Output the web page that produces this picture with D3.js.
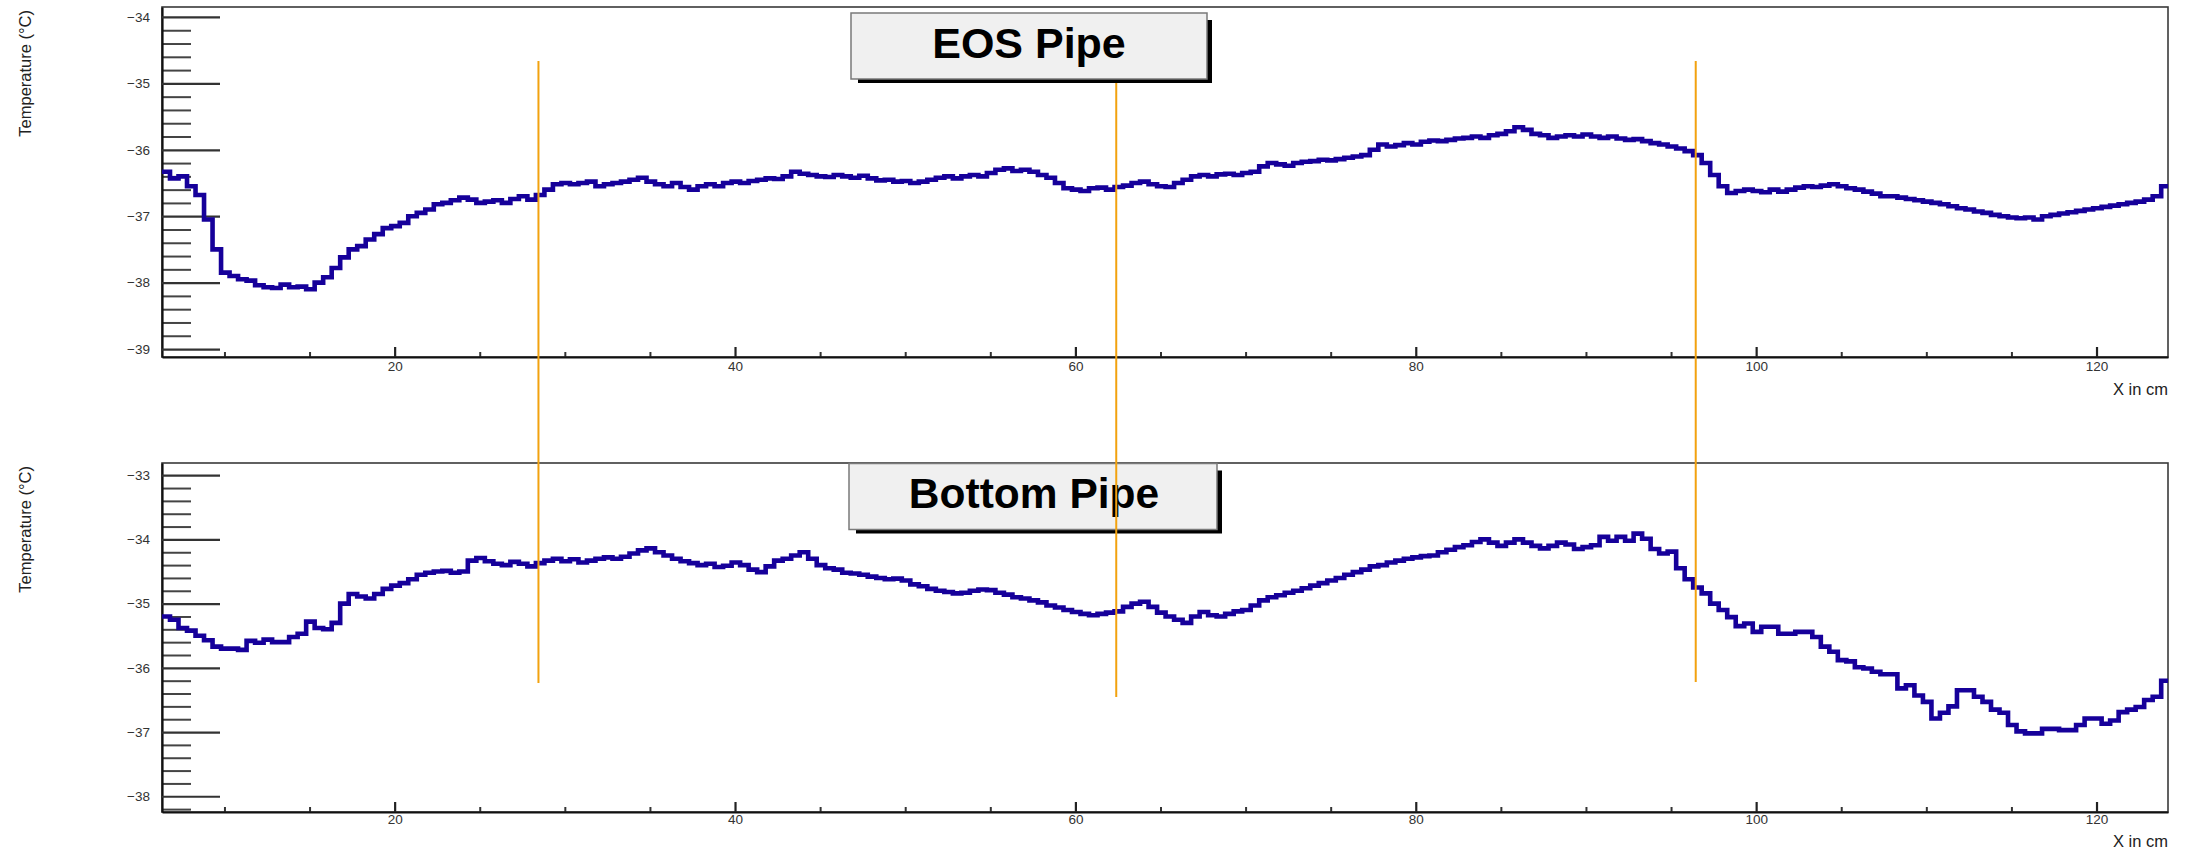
<!DOCTYPE html>
<html>
<head>
<meta charset="utf-8">
<script src="https://cdn.jsdelivr.net/npm/d3@7"></script>
<style>
  html, body { margin: 0; padding: 0; background: #fff; }
  svg { display: block; }
  text { font-family: "Liberation Sans", Arial, Helvetica, sans-serif; }
</style>
</head>
<body>
<svg id="chart" width="2187" height="852"></svg>
<script>
// Temperature profiles along the pipes, histogram bins of 0.5 cm starting at 6.3 cm
const binStart = 6.3;
const binWidth = 0.5;

const eosTemps = [
  -36.33, -36.43, -36.40, -36.55, -36.68, -37.05, -37.50, -37.85, -37.90, -37.95,
  -37.97, -38.04, -38.07, -38.08, -38.03, -38.07, -38.06, -38.10, -38.00, -37.92,
  -37.78, -37.62, -37.50, -37.45, -37.35, -37.27, -37.18, -37.15, -37.10, -37.00,
  -36.95, -36.90, -36.82, -36.80, -36.76, -36.72, -36.75, -36.80, -36.78, -36.76,
  -36.80, -36.74, -36.70, -36.75, -36.68, -36.60, -36.52, -36.50, -36.52, -36.50,
  -36.48, -36.55, -36.52, -36.50, -36.48, -36.45, -36.42, -36.48, -36.52, -36.55,
  -36.50, -36.56, -36.60, -36.55, -36.52, -36.55, -36.50, -36.48, -36.50, -36.47,
  -36.45, -36.43, -36.44, -36.40, -36.33, -36.36, -36.38, -36.40, -36.41, -36.38,
  -36.40, -36.42, -36.39, -36.43, -36.46, -36.45, -36.48, -36.47, -36.50, -36.48,
  -36.45, -36.42, -36.40, -36.43, -36.40, -36.38, -36.40, -36.35, -36.30, -36.28,
  -36.32, -36.30, -36.33, -36.38, -36.42, -36.50, -36.58, -36.60, -36.62, -36.58,
  -36.57, -36.60, -36.56, -36.54, -36.50, -36.48, -36.52, -36.55, -36.56, -36.50,
  -36.45, -36.40, -36.38, -36.40, -36.37, -36.36, -36.38, -36.35, -36.33, -36.25,
  -36.20, -36.22, -36.24, -36.20, -36.18, -36.17, -36.15, -36.16, -36.14, -36.12,
  -36.10, -36.08, -36.00, -35.92, -35.95, -35.93, -35.90, -35.92, -35.88, -35.86,
  -35.87, -35.85, -35.83, -35.82, -35.80, -35.82, -35.78, -35.76, -35.72, -35.66,
  -35.70, -35.76, -35.78, -35.82, -35.80, -35.78, -35.80, -35.77, -35.80, -35.82,
  -35.80, -35.83, -35.85, -35.84, -35.87, -35.90, -35.92, -35.95, -35.98, -36.02,
  -36.08, -36.20, -36.38, -36.55, -36.65, -36.62, -36.60, -36.62, -36.64, -36.60,
  -36.63, -36.60, -36.57, -36.55, -36.56, -36.54, -36.52, -36.55, -36.58, -36.60,
  -36.63, -36.66, -36.70, -36.70, -36.72, -36.74, -36.76, -36.78, -36.80, -36.82,
  -36.85, -36.88, -36.90, -36.93, -36.95, -36.98, -37.00, -37.02, -37.03, -37.02,
  -37.05, -37.00, -36.98, -36.96, -36.94, -36.92, -36.90, -36.88, -36.86, -36.84,
  -36.82, -36.80, -36.78, -36.75, -36.70, -36.55
];

const bottomTemps = [
  -35.20, -35.25, -35.38, -35.42, -35.50, -35.57, -35.67, -35.70, -35.70, -35.72,
  -35.58, -35.61, -35.56, -35.60, -35.60, -35.52, -35.47, -35.28, -35.38, -35.40,
  -35.30, -35.00, -34.85, -34.89, -34.92, -34.85, -34.77, -34.72, -34.68, -34.62,
  -34.55, -34.52, -34.50, -34.49, -34.52, -34.50, -34.33, -34.29, -34.34, -34.38,
  -34.40, -34.35, -34.38, -34.42, -34.37, -34.33, -34.30, -34.34, -34.31, -34.36,
  -34.33, -34.30, -34.28, -34.30, -34.27, -34.22, -34.17, -34.14, -34.20, -34.25,
  -34.30, -34.34, -34.37, -34.40, -34.38, -34.43, -34.41, -34.36, -34.40, -34.47,
  -34.51, -34.42, -34.33, -34.30, -34.25, -34.20, -34.30, -34.40, -34.45, -34.47,
  -34.52, -34.53, -34.55, -34.58, -34.60, -34.62, -34.61, -34.64, -34.70, -34.73,
  -34.77, -34.80, -34.82, -34.84, -34.83, -34.80, -34.78, -34.79, -34.83, -34.86,
  -34.90, -34.92, -34.95, -34.98, -35.03, -35.06, -35.10, -35.13, -35.16, -35.18,
  -35.16, -35.14, -35.12, -35.05, -35.00, -34.97, -35.05, -35.14, -35.20, -35.25,
  -35.30, -35.20, -35.13, -35.18, -35.20, -35.16, -35.12, -35.10, -35.03, -34.95,
  -34.90, -34.87, -34.83, -34.80, -34.76, -34.72, -34.68, -34.64, -34.60, -34.55,
  -34.51, -34.47, -34.42, -34.40, -34.36, -34.33, -34.30, -34.28, -34.26, -34.25,
  -34.20, -34.16, -34.12, -34.09, -34.04, -34.00, -34.05, -34.10, -34.05, -34.00,
  -34.05, -34.10, -34.14, -34.10, -34.05, -34.08, -34.15, -34.12, -34.09, -33.96,
  -34.02, -33.96, -34.02, -33.91, -33.99, -34.15, -34.22, -34.19, -34.45, -34.62,
  -34.75, -34.84, -35.00, -35.10, -35.21, -35.35, -35.31, -35.44, -35.36, -35.36,
  -35.47, -35.47, -35.44, -35.44, -35.52, -35.67, -35.75, -35.88, -35.90, -35.99,
  -36.01, -36.06, -36.10, -36.10, -36.32, -36.27, -36.43, -36.53, -36.79, -36.70,
  -36.60, -36.35, -36.35, -36.45, -36.53, -36.65, -36.70, -36.89, -36.99, -37.02,
  -37.02, -36.95, -36.95, -36.97, -36.97, -36.89, -36.79, -36.79, -36.87, -36.82,
  -36.69, -36.65, -36.61, -36.50, -36.45, -36.20
];

// Axis ranges and ticks
const xRange = [6.33, 124.2];
const xTicks = [20, 40, 60, 80, 100, 120];
const eosRange = [-39.12, -33.85];
const eosTicks = [-39, -38, -37, -36, -35, -34];
const bottomRange = [-38.245, -32.81];
const bottomTicks = [-38, -37, -36, -35, -34, -33];

// Reference positions along the pipe (cm)
const markerPositions = [28.45, 62.4, 96.45];

const panels = [
  { id: "eos", title: "EOS Pipe", values: eosTemps, yRange: eosRange, yTicks: eosTicks },
  { id: "bottom", title: "Bottom Pipe", values: bottomTemps, yRange: bottomRange, yTicks: bottomTicks }
];

// Layout
const frameLeft = 162, frameRight = 2168;
const layouts = {
  eos:    { top: 7,   bottom: 357, labelPad: 4, xTitleY: 395,
            box: { x: 851, y: 13, w: 356, h: 66, textX: 1029, baseline: 58, size: 43 } },
  bottom: { top: 463, bottom: 812, labelPad: 2, xTitleY: 846.5,
            box: { x: 849, y: 463.5, w: 368, h: 66, textX: 1034, baseline: 508, size: 42.5 } }
};

const svg = d3.select("#chart");
const x = d3.scaleLinear().domain(xRange).range([frameLeft, frameRight]);

const lineColor = "#16009a";
const tickColor = "#444";

panels.forEach(p => {
  const L = layouts[p.id];
  const y = d3.scaleLinear().domain(p.yRange).range([L.bottom, L.top]);
  const g = svg.append("g").attr("class", "panel-" + p.id);

  // Frame
  g.append("rect")
    .attr("x", frameLeft).attr("y", L.top)
    .attr("width", frameRight - frameLeft).attr("height", L.bottom - L.top)
    .attr("fill", "none").attr("stroke", "#3a3a3a").attr("stroke-width", 1.6);

  // Clip for the histogram
  const clipId = "clip-" + p.id;
  svg.append("clipPath").attr("id", clipId)
    .append("rect")
    .attr("x", frameLeft).attr("y", L.top)
    .attr("width", frameRight - frameLeft).attr("height", L.bottom - L.top);

  // Minor y ticks (0.2 steps)
  const [ylo, yhi] = p.yRange;
  const yMinor = d3.range(Math.ceil(ylo * 5), Math.floor(yhi * 5) + 1)
    .filter(k => k % 5 !== 0).map(k => k / 5);
  g.append("g")
    .attr("transform", `translate(${frameLeft},0)`)
    .call(d3.axisLeft(y).tickValues(yMinor).tickSize(-29).tickSizeOuter(0).tickFormat(""))
    .call(a => a.select(".domain").remove())
    .call(a => a.selectAll("line").attr("stroke", tickColor).attr("stroke-width", 2));

  // Major y ticks with labels
  g.append("g")
    .attr("transform", `translate(${frameLeft},0)`)
    .call(d3.axisLeft(y).tickValues(p.yTicks).tickSize(-58).tickSizeOuter(0).tickPadding(12)
      .tickFormat(d3.format("d")))
    .call(a => a.select(".domain").attr("stroke", "#111").attr("stroke-width", 2.2))
    .call(a => a.selectAll("line").attr("stroke", "#333").attr("stroke-width", 2.2))
    .call(a => a.selectAll("text").attr("font-size", 13.5).attr("fill", "#333")
      .attr("font-family", '"Liberation Sans", Arial, sans-serif'));

  // Minor x ticks (5 cm)
  const xMinor = d3.range(Math.ceil(xRange[0] / 5), Math.floor(xRange[1] / 5) + 1)
    .map(k => k * 5).filter(v => v % 20 !== 0);
  g.append("g")
    .attr("transform", `translate(0,${L.bottom})`)
    .call(d3.axisBottom(x).tickValues(xMinor).tickSize(-5).tickSizeOuter(0).tickFormat(""))
    .call(a => a.select(".domain").remove())
    .call(a => a.selectAll("line").attr("stroke", "#333").attr("stroke-width", 2));

  // Major x ticks with labels
  g.append("g")
    .attr("transform", `translate(0,${L.bottom})`)
    .call(d3.axisBottom(x).tickValues(xTicks).tickSize(-10).tickSizeOuter(0).tickPadding(L.labelPad)
      .tickFormat(d3.format("d")))
    .call(a => a.select(".domain").attr("stroke", "#111").attr("stroke-width", 2.2))
    .call(a => a.selectAll("line").attr("stroke", "#222").attr("stroke-width", 2.2))
    .call(a => a.selectAll("text").attr("font-size", 13.5).attr("fill", "#333")
      .attr("font-family", '"Liberation Sans", Arial, sans-serif'));

  // Axis titles
  g.append("text")
    .attr("x", frameRight).attr("y", L.xTitleY)
    .attr("text-anchor", "end")
    .attr("font-size", 16.5).attr("fill", "#222")
    .text("X in cm");

  g.append("text")
    .attr("transform", `translate(31,${L.top + 3}) rotate(-90)`)
    .attr("text-anchor", "end")
    .attr("font-size", 16.5).attr("fill", "#222")
    .text("Temperature (°C)");

  // Histogram drawn as steps across each bin
  const pts = [];
  p.values.forEach((v, i) => {
    const lo = binStart + i * binWidth;
    pts.push([lo, v], [lo + binWidth, v]);
  });
  const stepLine = d3.line().x(d => x(d[0])).y(d => y(d[1]));
  g.append("path")
    .attr("clip-path", `url(#${clipId})`)
    .attr("d", stepLine(pts))
    .attr("fill", "none")
    .attr("stroke", lineColor)
    .attr("stroke-width", 4.6)
    .attr("stroke-linejoin", "miter")
    .attr("stroke-linecap", "square");
});

// Title boxes with drop shadow
function titleBox(L, text) {
  const b = L.box;
  const g = svg.append("g");
  g.append("rect")
    .attr("x", b.x + 7).attr("y", b.y + 7)
    .attr("width", b.w - 2).attr("height", b.h - 3)
    .attr("fill", "#000");
  g.append("rect")
    .attr("x", b.x).attr("y", b.y)
    .attr("width", b.w).attr("height", b.h)
    .attr("fill", "#f0f0f0").attr("stroke", "#7a7a7a").attr("stroke-width", 1.5);
  g.append("text")
    .attr("x", b.textX).attr("y", b.baseline)
    .attr("text-anchor", "middle")
    .attr("font-size", b.size).attr("font-weight", "bold").attr("fill", "#000")
    .text(text);
}

// Bottom title box sits beneath the marker lines, the EOS box above them
titleBox(layouts.bottom, panels[1].title);

// Vertical marker lines spanning both panels
const markerSpans = [[61, 683], [79, 697], [61, 682]];
svg.append("g").selectAll("line")
  .data(markerPositions)
  .join("line")
  .attr("x1", d => x(d)).attr("x2", d => x(d))
  .attr("y1", (d, i) => markerSpans[i][0])
  .attr("y2", (d, i) => markerSpans[i][1])
  .attr("stroke", "#f2a20f").attr("stroke-width", 2);

titleBox(layouts.eos, panels[0].title);
</script>
</body>
</html>
